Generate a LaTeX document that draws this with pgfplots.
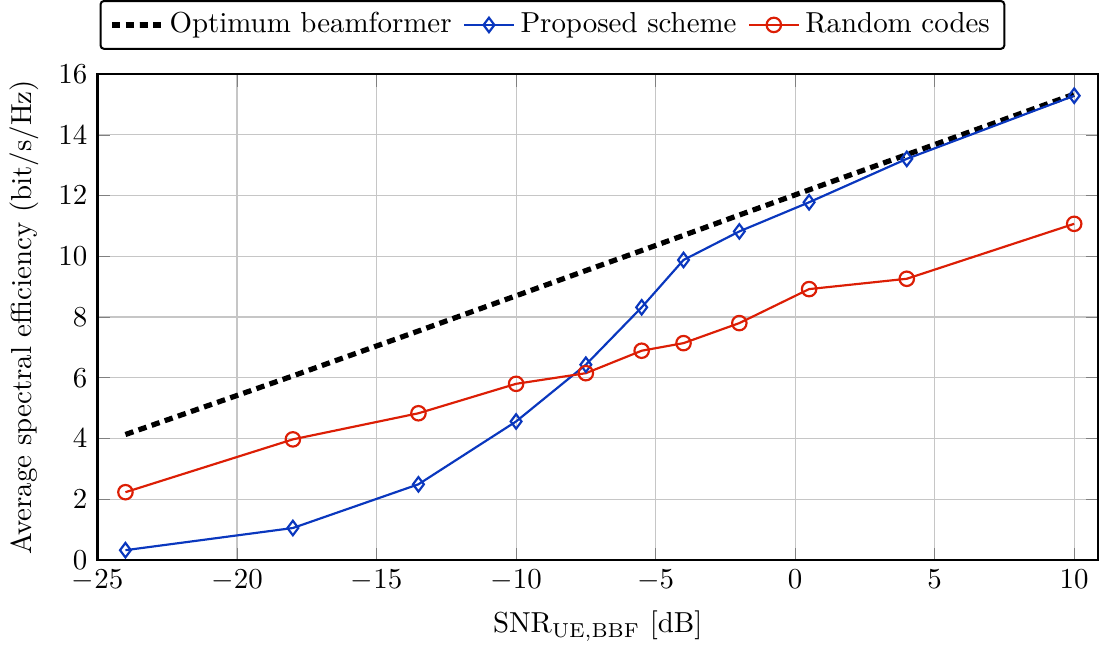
\documentclass[border=0pt]{standalone}
\usepackage{pgfplots}
\pgfplotsset{compat=1.18}
\definecolor{myblue}{RGB}{10,55,190}
\definecolor{myred}{RGB}{220,30,5}
\begin{document}
\begin{tikzpicture}
\begin{axis}[
  scale only axis,
  width=346pt, height=168pt,
  xmin=-25, xmax=10.85,
  ymin=0, ymax=16,
  xtick={-25,-20,-15,-10,-5,0,5,10},
  ytick={0,2,4,6,8,10,12,14,16},
  grid=major,
  major grid style={gray!45, line width=0.4pt},
  axis line style={line width=0.75pt},
  xlabel={$\mathrm{SNR}_{\mathrm{UE,BBF}}$ [dB]},
  ylabel={Average spectral efficiency (bit/s/Hz)},
  legend columns=-1,
  legend style={at={(0.002,1.05)}, anchor=south west, draw=black, line width=0.7pt, rounded corners=1.2pt,
    /tikz/every even column/.append style={column sep=2pt}},
]
\addplot[black, line width=1.8pt, dash pattern=on 2.9pt off 1.9pt] coordinates {
(-24,4.13) (-18,6.06) (-13.5,7.54) (-10,8.70) (-7.5,9.53) (-5.5,10.19) (-4,10.69) (-2,11.36) (0.5,12.19) (4,13.35) (10,15.34)
};
\addlegendentry{Optimum beamformer}
\addplot[myblue, line width=0.75pt, mark=diamond, mark size=2.5pt, mark options={solid, line width=0.75pt}] coordinates {
(-24,0.32) (-18,1.05) (-13.5,2.49) (-10,4.56) (-7.5,6.43) (-5.5,8.32) (-4,9.88) (-2,10.82) (0.5,11.78) (4,13.21) (10,15.29)
};
\addlegendentry{Proposed scheme}
\addplot[myred, line width=0.75pt, mark=o, mark size=2.5pt, mark options={solid, line width=0.75pt}] coordinates {
(-24,2.23) (-18,3.97) (-13.5,4.83) (-10,5.80) (-7.5,6.15) (-5.5,6.89) (-4,7.14) (-2,7.80) (0.5,8.92) (4,9.26) (10,11.07)
};
\addlegendentry{Random codes}
\end{axis}
\end{tikzpicture}
\end{document}
